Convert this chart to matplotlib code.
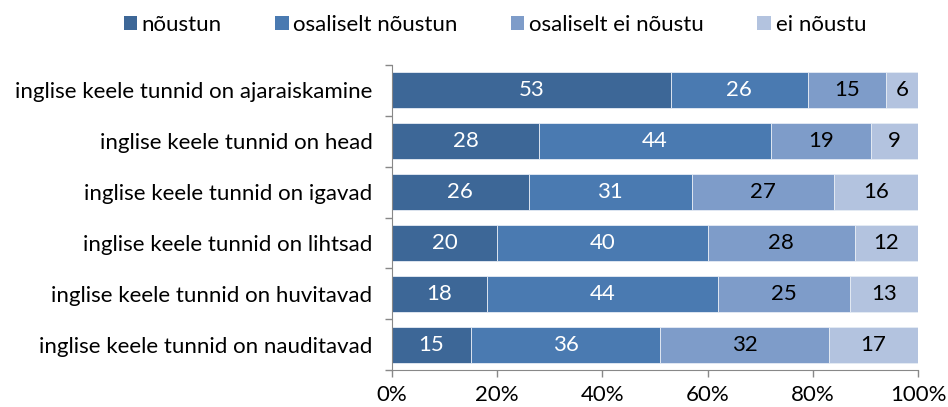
import matplotlib
matplotlib.use("Agg")
import matplotlib.pyplot as plt
from matplotlib.patches import Patch
import numpy as np

plt.rcParams['font.family'] = ['Lato', 'DejaVu Sans']

categories = [
    "inglise keele tunnid on ajaraiskamine",
    "inglise keele tunnid on head",
    "inglise keele tunnid on igavad",
    "inglise keele tunnid on lihtsad",
    "inglise keele tunnid on huvitavad",
    "inglise keele tunnid on nauditavad",
]
series_names = ["nõustun", "osaliselt nõustun", "osaliselt ei nõustu", "ei nõustu"]
noustun = [53, 28, 26, 20, 18, 15]
osal_noustun = [26, 44, 31, 40, 44, 36]
osal_ei = [15, 19, 27, 28, 25, 32]
ei_noustu = [6, 9, 16, 12, 13, 17]
xticklabels = ["0%", "20%", "40%", "60%", "80%", "100%"]

colors = ["#3D6797", "#4A7AB1", "#7E9CC9", "#B3C3DF"]
text_colors = ["white", "white", "black", "black"]
FS = 16

fig = plt.figure(figsize=(9.48, 4.07), dpi=100)
ax = fig.add_axes([392/948, 37/407, (918-392)/948, (370-65)/407])

series = [noustun, osal_noustun, osal_ei, ei_noustu]
y = np.arange(len(categories))
left = np.zeros(len(categories))
totals = np.array([sum(s[i] for s in series) for i in range(len(categories))], dtype=float)
for vals, col, tc in zip(series, colors, text_colors):
    vals = np.array(vals, dtype=float)
    widths = vals / totals
    ax.barh(y, widths, left=left, height=0.71, color=col, edgecolor="#E6ECF5", linewidth=0.6)
    for yi, l, w, v in zip(y, left, widths, vals):
        ax.text(l + w/2, yi, f"{int(v)}", ha="center", va="center", color=tc, fontsize=FS)
    left += widths

ax.set_ylim(len(categories) - 0.5, -0.5)
ax.set_xlim(0, 1)
ax.set_yticks(y)
ax.set_yticklabels(categories, fontsize=FS)
ax.set_yticks(np.arange(-0.5, len(categories)), minor=True)
ax.tick_params(axis="y", which="major", length=0, pad=14)
ax.tick_params(axis="y", which="minor", length=5, color="#888888", width=1)
ax.set_xticks(np.linspace(0, 1, 6))
ax.set_xticklabels(xticklabels, fontsize=FS)
ax.tick_params(axis="x", length=5, color="#888888", width=1, pad=6)
for s in ["top", "right"]:
    ax.spines[s].set_visible(False)
for s in ["left", "bottom"]:
    ax.spines[s].set_color("#888888")

handles = [Patch(facecolor=c, edgecolor="none") for c in colors]
fig.legend(handles, series_names, loc="center", bbox_to_anchor=(0.522, 0.939), ncol=4,
           frameon=False, fontsize=FS, handlelength=0.6, handleheight=0.6,
           handletextpad=0.22, columnspacing=2.4, borderpad=0, borderaxespad=0)

fig.savefig("out.png", dpi=100)
